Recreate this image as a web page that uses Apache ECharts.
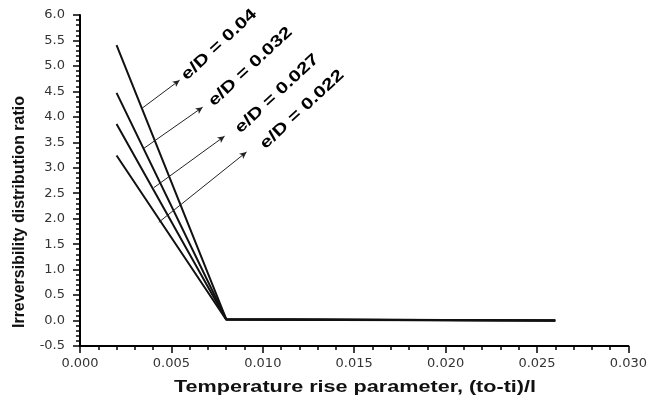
<!DOCTYPE html>
<html>
<head>
<meta charset="utf-8">
<script src="https://cdn.jsdelivr.net/npm/echarts@6/dist/echarts.min.js"></script>
<style>
  html, body { margin: 0; padding: 0; background: #fff; }
  #chartmain { width: 650px; height: 400px; }
</style>
</head>
<body>
<div id="chartmain"></div>
<script>
// 横坐标 (温升参数)
var xValues = [0.002, 0.008, 0.026];
// 各 e/D 曲线
var ed040 = [5.41, 0.03, 0.0];
var ed032 = [4.47, 0.025, 0.0];
var ed027 = [3.86, 0.02, 0.0];
var ed022 = [3.24, 0.015, 0.0];
// 标注文字
var noteText = ['e/D = 0.04', 'e/D = 0.032', 'e/D = 0.027', 'e/D = 0.022'];
// 箭头起点 / 终点
var arrowFrom = [[0.0034, 4.17], [0.00349, 3.38], [0.00404, 2.61], [0.00431, 1.93]];
var arrowTo = [[0.00545, 4.72], [0.00671, 4.19], [0.00791, 3.62], [0.00911, 3.31]];
// 文字位置
var notePos = [[0.00568, 4.77], [0.00716, 4.26], [0.00862, 3.73], [0.00999, 3.42]];

var font = '"Liberation Sans", Arial, sans-serif';
var tickFont = '"DejaVu Sans", sans-serif';

function pairs(ys) {
  var out = [];
  for (var i = 0; i < xValues.length; i++) {
    out.push([xValues[i], ys[i]]);
  }
  return out;
}

function lineSeries(name, ys) {
  return {
    name: name,
    type: 'line',
    data: pairs(ys),
    symbol: 'none',
    silent: true,
    lineStyle: { color: '#111', width: 2 },
    z: 3
  };
}

var arrows = [];
for (var i = 0; i < arrowFrom.length; i++) {
  arrows.push([{ coord: arrowFrom[i] }, { coord: arrowTo[i] }]);
}

var series = [
  lineSeries(noteText[0], ed040),
  lineSeries(noteText[1], ed032),
  lineSeries(noteText[2], ed027),
  lineSeries(noteText[3], ed022)
];
series[0].markLine = {
  silent: true,
  symbol: ['none', 'arrow'],
  symbolSize: [5, 7],
  label: { show: false },
  lineStyle: { color: '#222', width: 1, type: 'solid' },
  data: arrows,
  animation: false
};

var option = {
  animation: false,
  grid: { left: 80, right: 19, top: 15, bottom: 54 },
  xAxis: {
    type: 'value',
    min: 0,
    max: 0.03,
    interval: 0.005,
    axisLine: { onZero: false, lineStyle: { color: '#000', width: 2 } },
    axisTick: { length: 7, lineStyle: { color: '#000', width: 1.5 } },
    minorTick: { show: true, splitNumber: 5, length: 4, lineStyle: { color: '#000', width: 1.5 } },
    splitLine: { show: false },
    axisLabel: {
      margin: 11,
      fontFamily: tickFont,
      fontSize: 13,
      color: '#333',
      formatter: function (v) { return v.toFixed(3); }
    }
  },
  yAxis: {
    type: 'value',
    min: -0.5,
    max: 6.0,
    interval: 0.5,
    axisLine: { onZero: false, lineStyle: { color: '#000', width: 2 } },
    axisTick: { length: 7, lineStyle: { color: '#000', width: 1.5 } },
    minorTick: { show: true, splitNumber: 5, length: 4, lineStyle: { color: '#000', width: 1.5 } },
    splitLine: { show: false },
    axisLabel: {
      margin: 15,
      fontFamily: tickFont,
      fontSize: 13,
      color: '#333',
      formatter: function (v) { return v.toFixed(1); }
    }
  },
  series: series
};

var myChart = echarts.init(document.getElementById('chartmain'));
myChart.setOption(option);

// 标注文字与坐标轴标题
var graphics = [];
for (var j = 0; j < noteText.length; j++) {
  var p = myChart.convertToPixel({ gridIndex: 0 }, notePos[j]);
  graphics.push({
    type: 'group',
    x: p[0],
    y: p[1],
    rotation: 43 * Math.PI / 180,
    silent: true,
    children: [{
      type: 'text',
      scaleX: 1.3,
      style: {
        text: noteText[j],
        fill: '#000',
        font: 'bold 16px ' + font,
        textAlign: 'left',
        textVerticalAlign: 'middle'
      }
    }]
  });
}
graphics.push({
  type: 'text',
  x: 355,
  y: 388,
  scaleX: 1.35,
  silent: true,
  style: {
    text: 'Temperature rise parameter, (to-ti)/l',
    fill: '#111',
    font: 'bold 16px ' + font,
    textAlign: 'center',
    textVerticalAlign: 'middle'
  }
});
graphics.push({
  type: 'text',
  x: 20,
  y: 212,
  rotation: Math.PI / 2,
  silent: true,
  style: {
    text: 'Irreversibility distribution ratio',
    fill: '#111',
    font: 'bold 16px ' + font,
    textAlign: 'center',
    textVerticalAlign: 'middle'
  }
});
myChart.setOption({ graphic: graphics });
</script>
</body>
</html>
